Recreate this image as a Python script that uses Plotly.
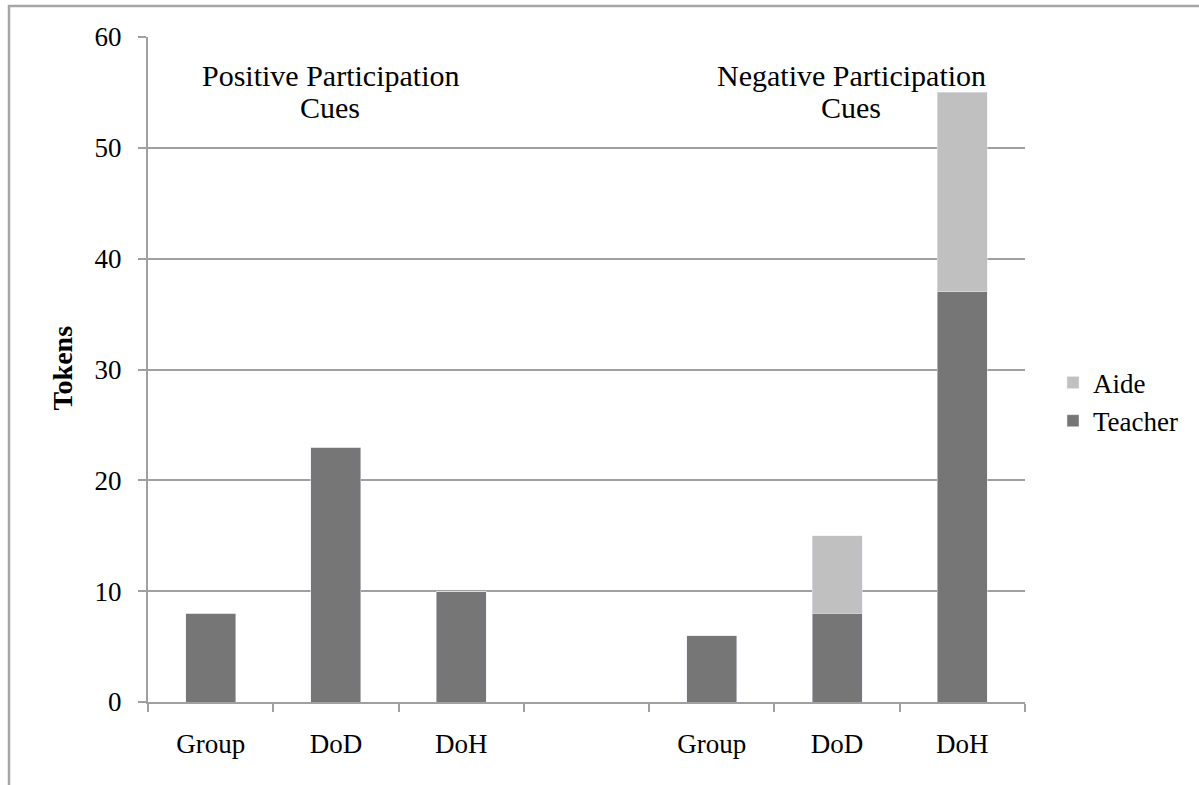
import plotly.graph_objects as go

# Category slots: three "positive" cues, an empty spacer, three "negative" cues
slot_ids = ["pos_group", "pos_dod", "pos_doh", "spacer", "neg_group", "neg_dod", "neg_doh"]
tick_labels = ["Group", "DoD", "DoH", "", "Group", "DoD", "DoH"]

teacher = [8, 23, 10, 0, 6, 8, 37]
aide = [0, 0, 0, 0, 0, 7, 18]

W, H = 1199, 785
L, R, T, B = 148, 174, 37, 83
pw, ph = W - L - R, H - T - B

def px_x(x):
    return (x - L) / pw

def px_y(y):
    return 1 - (y - T) / ph

FONT = "Liberation Serif"
GRID = "#a0a0a0"

fig = go.Figure()
fig.add_trace(go.Bar(x=slot_ids, y=teacher, name="Teacher", marker_color="#767676",
                     legendrank=2))
fig.add_trace(go.Bar(x=slot_ids, y=aide, name="Aide", marker_color="#c0c0c0",
                     legendrank=1))

fig.update_layout(
    width=W, height=H,
    margin=dict(l=L, r=R, t=T, b=B),
    barmode="stack",
    bargap=0.6,
    plot_bgcolor="white",
    paper_bgcolor="white",
    font=dict(family=FONT, size=27, color="black"),
    showlegend=True,
    legend=dict(
        x=px_x(1053), y=px_y(402), xanchor="left", yanchor="middle",
        traceorder="normal", tracegroupgap=10,
        font=dict(family=FONT, size=27),
        itemwidth=30,
        bgcolor="rgba(0,0,0,0)",
    ),
)

fig.update_xaxes(
    type="category",
    tickvals=slot_ids,
    ticktext=tick_labels,
    tickson="boundaries",
    ticks="outside", ticklen=8, tickwidth=2, tickcolor=GRID,
    showline=True, linecolor=GRID, linewidth=2,
    showgrid=False,
    ticklabelstandoff=17,
    tickfont=dict(family=FONT, size=27),
)
fig.update_yaxes(
    range=[0, 60], dtick=10,
    ticks="outside", ticklen=8, tickwidth=2, tickcolor=GRID,
    showline=True, linecolor=GRID, linewidth=2,
    showgrid=True, gridcolor=GRID, gridwidth=2,
    zeroline=False,
    ticklabelstandoff=11,
    tickfont=dict(family=FONT, size=27),
)

# Axis title
fig.add_annotation(
    x=px_x(44), y=px_y(368), xref="paper", yref="paper",
    text="<b>Tokens</b>", textangle=-90, showarrow=False,
    font=dict(family=FONT, size=28),
)

# Group headings, one annotation per line
headings = [
    (330, ["Positive Participation", "Cues"]),
    (851, ["Negative Participation", "Cues"]),
]
for cx, lines in headings:
    for i, line in enumerate(lines):
        fig.add_annotation(
            x=px_x(cx), y=px_y(75 + 32 * i), xref="paper", yref="paper",
            xanchor="center", yanchor="middle",
            text=line, showarrow=False,
            font=dict(family=FONT, size=30),
        )

# Chart frame
fig.add_shape(
    type="rect", xref="paper", yref="paper",
    x0=px_x(9), y0=px_y(795), x1=px_x(1210), y1=px_y(6),
    line=dict(color="#a6a6a6", width=2.5), fillcolor="rgba(0,0,0,0)",
    layer="below",
)

fig.write_html("out.html")
